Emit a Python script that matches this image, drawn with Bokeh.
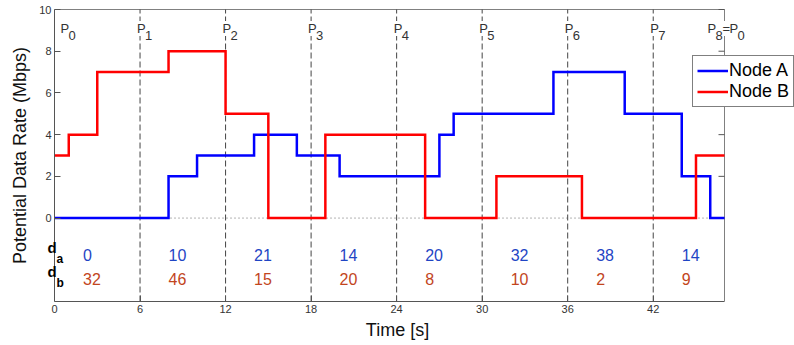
from bokeh.plotting import figure
from bokeh.models import Label, Legend, FixedTicker
from bokeh.core.properties import value
from bokeh.embed import file_html
from bokeh.resources import INLINE

# Step schedules: breakpoints (s) and potential data rate (Mbps)
node_a_t = [0, 8, 10, 14, 17, 20, 27, 28, 35, 40, 44, 46, 47]
node_a_rate = [0, 2, 3, 4, 3, 2, 4, 5, 7, 5, 2, 0, 0]
node_b_t = [0, 1, 3, 8, 12, 15, 19, 26, 31, 37, 45, 47]
node_b_rate = [3, 4, 7, 8, 5, 0, 4, 0, 2, 0, 3, 3]

# Period boundaries P0..P8 and per-period demands
period_bounds = [0, 6, 12, 18, 24, 30, 36, 42, 47]
period_index = ["0", "1", "2", "3", "4", "5", "6", "7", "8"]
d_a = [0, 10, 21, 14, 20, 32, 38, 14]
d_b = [32, 46, 15, 20, 8, 10, 2, 9]

x_ticks = [0, 6, 12, 18, 24, 30, 36, 42]
y_ticks = [0, 2, 4, 6, 8, 10]

T_MIN, T_MAX = 0, 47
R_MIN, R_MAX = -4, 10

FONT = "Liberation Sans"
BLUE_TXT = "#1f45c4"
RED_TXT = "#c2451d"
BOX = "#808080"
AXIS = "#555555"

# canvas geometry (px): the frame spans the full width so that the
# side texts and the legend are not clipped; the data box sits inside it
W, H = 794, 345
BOTTOM_PANEL = 44
BOX_LEFT, BOX_RIGHT, BOX_TOP = 54, 724, 9
frame_h = H - BOTTOM_PANEL
px_x = (BOX_RIGHT - BOX_LEFT) / (T_MAX - T_MIN)
px_y = (frame_h - BOX_TOP) / (R_MAX - R_MIN)
x_range = (T_MIN - BOX_LEFT / px_x, T_MAX + (W - BOX_RIGHT) / px_x)
y_range = (R_MIN, R_MAX + BOX_TOP / px_y)

p = figure(width=W, height=H, x_range=x_range, y_range=y_range,
           output_backend="svg", toolbar_location=None,
           min_border_left=0, min_border_right=0,
           min_border_top=0, min_border_bottom=BOTTOM_PANEL)
p.xgrid.visible = False
p.ygrid.visible = False
p.outline_line_color = None
p.background_fill_color = "white"

for ax in (p.xaxis[0], p.yaxis[0]):
    ax.axis_line_color = AXIS
    ax.major_tick_line_color = AXIS
    ax.major_tick_in = 6
    ax.major_tick_out = 0
    ax.minor_tick_line_color = None
    ax.major_label_text_font = FONT
    ax.major_label_text_font_size = "11px"
    ax.major_label_text_color = "#333333"
    ax.major_label_standoff = 3
    ax.axis_label_text_font = FONT
    ax.axis_label_text_font_size = "18px"
    ax.axis_label_text_font_style = "normal"
    ax.axis_label_text_color = "#111111"

p.xaxis.ticker = FixedTicker(ticks=x_ticks)
p.xaxis.bounds = (T_MIN, T_MAX)
p.xaxis.axis_label = "Time [s]"
p.xaxis.axis_label_standoff = 4

p.yaxis.ticker = FixedTicker(ticks=y_ticks)
p.yaxis.bounds = (R_MIN, R_MAX)
p.yaxis.fixed_location = T_MIN
p.yaxis.axis_label = "Potential Data Rate (Mbps)"
p.yaxis.axis_label_standoff = 6

# top and right sides of the box, with inward ticks on the right
p.segment(x0=[T_MIN, T_MAX], y0=[R_MAX, R_MIN], x1=[T_MAX, T_MAX], y1=[R_MAX, R_MAX],
          line_color=BOX, line_width=1)
tick_len = 6 / px_x
p.segment(x0=[T_MAX] * len(y_ticks), y0=y_ticks,
          x1=[T_MAX - tick_len] * len(y_ticks), y1=y_ticks,
          line_color=AXIS, line_width=1)

# zero baseline and period boundaries
p.segment(x0=[T_MIN], y0=[0], x1=[T_MAX], y1=[0], line_color="#666666",
          line_dash="1 3", line_width=1)
inner = period_bounds[1:-1]
p.segment(x0=inner, y0=[R_MIN] * len(inner), x1=inner, y1=[R_MAX] * len(inner),
          line_color="#444444", line_width=1, line_dash="6 3")

ra = p.step(node_a_t, node_a_rate, mode="after", line_color="#0000ff",
            line_width=2.5, line_join="miter")
rb = p.step(node_b_t, node_b_rate, mode="after", line_color="#ff0000",
            line_width=2.5, line_join="miter")

legend = Legend(items=[("Node A", [ra]), ("Node B", [rb])],
                location=(692, 194), border_line_color="black",
                border_line_width=1, background_fill_color="white",
                background_fill_alpha=1, padding=4, spacing=0, margin=0,
                glyph_width=31, glyph_height=21, label_height=21,
                label_standoff=1, label_text_font=FONT,
                label_text_font_size="18px", label_text_color="black")
p.add_layout(legend)

# demand values per period
start_x = [b + 2 for b in period_bounds[:-1]]
p.text(x=start_x, y=[-1.75] * len(start_x), text=[str(v) for v in d_a],
       text_font=value(FONT), text_font_size="16px", text_color=BLUE_TXT,
       text_align="left", text_baseline="alphabetic")
p.text(x=start_x, y=[-2.9] * len(start_x), text=[str(v) for v in d_b],
       text_font=value(FONT), text_font_size="16px", text_color=RED_TXT,
       text_align="left", text_baseline="alphabetic")

# row headers d_a / d_b
for row_y, sub in ((-1.75, "a"), (-2.9, "b")):
    p.add_layout(Label(x=T_MIN, y=row_y, x_offset=-7, y_offset=7, text="d",
                       text_font=FONT, text_font_size="15px",
                       text_font_style="bold", text_color="black",
                       text_align="left", text_baseline="alphabetic"))
    p.add_layout(Label(x=T_MIN, y=row_y, x_offset=2, y_offset=-4, text=sub,
                       text_font=FONT, text_font_size="12px",
                       text_font_style="bold", text_color="black",
                       text_align="left", text_baseline="alphabetic"))

# period markers P0..P8 (subscripted), each on a white backing
pieces = []
for i, (b, idx) in enumerate(zip(period_bounds, period_index)):
    if i == 0:
        base = 6
    elif i == len(period_bounds) - 1:
        base = -17
    else:
        base = -3
    pieces.append((b, base, "P", 0))
    pieces.append((b, base + 8, idx, -7))
    if i == len(period_bounds) - 1:
        pieces.append((b, base + 15, "=", 0))
        pieces.append((b, base + 22, "P", 0))
        pieces.append((b, base + 30, period_index[0], -7))

P_Y = 9.09
for b, dx, txt, dy in pieces:
    p.add_layout(Label(x=b, y=P_Y, x_offset=dx, y_offset=dy, text=txt,
                       text_font=FONT, text_font_size="13px",
                       text_color="white", background_fill_color="white",
                       text_align="left", text_baseline="alphabetic"))
for b, dx, txt, dy in pieces:
    p.add_layout(Label(x=b, y=P_Y, x_offset=dx, y_offset=dy, text=txt,
                       text_font=FONT, text_font_size="13px",
                       text_color="#333333",
                       text_align="left", text_baseline="alphabetic"))

open("out.html", "w").write(file_html(p, INLINE))
